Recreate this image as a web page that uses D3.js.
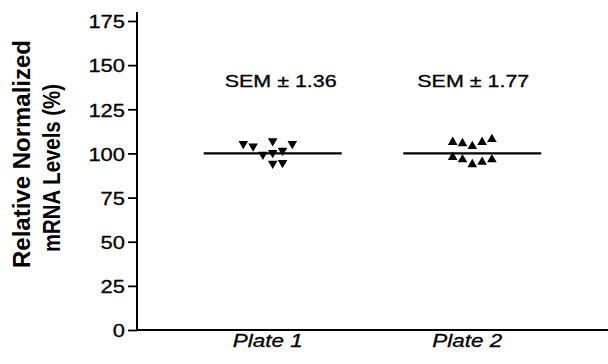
<!DOCTYPE html>
<html>
<head>
<meta charset="utf-8">
<script src="https://cdn.jsdelivr.net/npm/d3@7"></script>
<style>
    body { margin: 0; background: #fff; }
    text { font-family: "Liberation Sans", Arial, sans-serif; fill: #000; }
</style>
</head>
<body>
<div id="chart_01"></div>
<script>
// categories and values
const plates = ["Plate 1", "Plate 2"];
const semLabels = ["SEM \u00b1 1.36", "SEM \u00b1 1.77"];
const plateMeans = [100, 100];
const plate1Values = [105.5, 104.1, 107.0, 105.5, 99.4, 100.4, 101.7, 94.3, 94.7];
const plate1Slots  = [-3, -2, 0, 2, -1, 0, 1, 0, 1];
const plate2Values = [106.4, 105.7, 104.1, 106.4, 108.0, 97.9, 96.6, 93.8, 95.1, 96.6];
const plate2Slots  = [-2, -1, 0, 1, 2, -2, -1, 0, 1, 2];
const yTicks = [0, 25, 50, 75, 100, 125, 150, 175];

window.onload = function () {
    drawChart1();
};

function drawChart1() {

    let width = 608, height = 364;

    let svg = d3.select("#chart_01")
        .append("svg")
        .attr("width", width)
        .attr("height", height);

    // scales
    let x = d3.scalePoint()
        .domain(plates)
        .range([137, 608])
        .padding(0.68);

    let y = d3.scaleLinear()
        .domain([0, 175])
        .range([330, 21]);

    // Y axis
    let yAxis = svg.append("g")
        .attr("transform", "translate(137,0)")
        .call(d3.axisLeft(y).tickValues(yTicks).tickSize(9).tickPadding(3));
    yAxis.select(".domain").remove();
    yAxis.selectAll(".tick line").attr("stroke", "#000").attr("stroke-width", 1.8);
    yAxis.selectAll(".tick text")
        .style("font-size", "19px")
        .style("stroke", "#000").style("stroke-width", 0.3)
        .attr("dy", "0.36em")
        .attr("textLength", function (d) { return String(d).length * 12.2; })
        .attr("lengthAdjust", "spacingAndGlyphs");
    svg.append("line")
        .attr("x1", 137).attr("x2", 137)
        .attr("y1", y(0) + 1).attr("y2", 12)
        .attr("stroke", "#000").attr("stroke-width", 2);

    // X axis
    svg.append("line")
        .attr("x1", 136).attr("x2", 608)
        .attr("y1", y(0)).attr("y2", y(0))
        .attr("stroke", "#000").attr("stroke-width", 2);
    svg.selectAll("xLabels")
        .data(plates)
        .enter()
        .append("text")
        .attr("x", function (d) { return x(d) - 5; })
        .attr("y", 347)
        .attr("text-anchor", "middle")
        .style("font-size", "19px")
        .style("font-style", "italic")
        .style("stroke", "#000").style("stroke-width", 0.3)
        .attr("textLength", 70)
        .attr("lengthAdjust", "spacingAndGlyphs")
        .text(function (d) { return d; });

    // Y axis title
    let titleLines = ["Relative Normalized", "mRNA Levels (%)"];
    let titleLen = [228, 168];
    svg.selectAll("yTitle")
        .data(titleLines)
        .enter()
        .append("text")
        .attr("transform", function (d, i) {
            return "translate(" + (30 + i * 30) + "," + (154 + i * 14) + ") rotate(-90)";
        })
        .attr("text-anchor", "middle")
        .style("font-size", "23px")
        .style("font-weight", "bold")
        .attr("textLength", function (d, i) { return titleLen[i]; })
        .attr("lengthAdjust", "spacingAndGlyphs")
        .text(function (d) { return d; });

    // mean lines
    svg.selectAll("meanLines")
        .data(plates)
        .enter()
        .append("line")
        .attr("x1", function (d) { return x(d) - 69; })
        .attr("x2", function (d) { return x(d) + 69; })
        .attr("y1", function (d, i) { return y(plateMeans[i]); })
        .attr("y2", function (d, i) { return y(plateMeans[i]); })
        .attr("stroke", "#000")
        .attr("stroke-width", 2.2);

    // SEM labels
    svg.selectAll("semLabels")
        .data(plates)
        .enter()
        .append("text")
        .attr("x", function (d, i) { return x(d) + (i === 0 ? 8 : 1); })
        .attr("y", 87)
        .attr("text-anchor", "middle")
        .style("font-size", "17px")
        .style("stroke", "#000").style("stroke-width", 0.3)
        .attr("textLength", 112)
        .attr("lengthAdjust", "spacingAndGlyphs")
        .text(function (d, i) { return semLabels[i]; });

    // points
    let slotWidth = 9.8;
    let tri = d3.symbol().type(d3.symbolTriangle).size(40);

    svg.append("g")
        .selectAll("p1")
        .data(plate1Values)
        .enter()
        .append("path")
        .attr("d", tri)
        .attr("transform", function (d, i) {
            return "translate(" + (x("Plate 1") + plate1Slots[i] * slotWidth) + "," + y(d) + ") rotate(180)";
        })
        .attr("fill", "#000");

    svg.append("g")
        .selectAll("p2")
        .data(plate2Values)
        .enter()
        .append("path")
        .attr("d", tri)
        .attr("transform", function (d, i) {
            return "translate(" + (x("Plate 2") + plate2Slots[i] * slotWidth) + "," + y(d) + ")";
        })
        .attr("fill", "#000");
}
</script>
</body>
</html>
